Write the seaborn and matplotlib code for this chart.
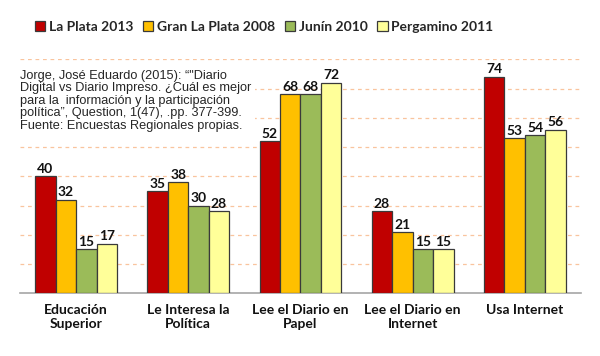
import pandas as pd
import seaborn as sns
import matplotlib.pyplot as plt

# --------------------------------------------------------------
# Data
# --------------------------------------------------------------
categories = ["Educación\nSuperior", "Le Interesa la\nPolítica", "Lee el Diario en\nPapel",
              "Lee el Diario en\nInternet", "Usa Internet"]
series_names = ["La Plata 2013", "Gran La Plata 2008", "Junín 2010", "Pergamino 2011"]
la_plata_2013 = [40, 35, 52, 28, 74]
gran_la_plata_2008 = [32, 38, 68, 21, 53]
junin_2010 = [15, 30, 68, 15, 54]
pergamino_2011 = [17, 28, 72, 15, 56]
colors = ["#C00000", "#FFC000", "#9BBB59", "#FFFF99"]

source_note = ("Jorge, José Eduardo (2015): “\"Diario\n"
               "Digital vs Diario Impreso. ¿Cuál es mejor\n"
               "para la  información y la participación\n"
               "política”, Question, 1(47), .pp. 377-399.\n"
               "Fuente: Encuestas Regionales propias.")

rows = []
for name, vals in zip(series_names, [la_plata_2013, gran_la_plata_2008, junin_2010, pergamino_2011]):
    for cat, v in zip(categories, vals):
        rows.append({"categoria": cat, "serie": name, "valor": v})
df = pd.DataFrame(rows)

# --------------------------------------------------------------
# Plot
# --------------------------------------------------------------
sns.set_style("white")
plt.rcParams['font.family'] = ['Lato', 'DejaVu Sans']

fig = plt.figure(figsize=(6, 3.56), dpi=100)
ax = fig.add_axes([0.0333, 0.176, 0.935, 0.6574])

sns.barplot(data=df, x="categoria", y="valor", hue="serie", order=categories,
            hue_order=series_names, palette=colors, saturation=1, width=0.73, gap=0,
            edgecolor="#3a3a3a", linewidth=0.9, ax=ax, zorder=3)

for cont in ax.containers:
    ax.bar_label(cont, padding=1, fontsize=10, fontweight="bold", color="#111111")

ax.set_ylim(0, 80)
ax.set_xlim(-0.5, 4.5)
ax.set_yticks(range(10, 81, 10))
ax.set_yticklabels([])
ax.yaxis.grid(True, color="#F9C49E", linestyle=(0, (3, 3)), linewidth=0.9)
ax.set_axisbelow(True)
ax.tick_params(axis="y", length=0)
for s in ["top", "right", "left"]:
    ax.spines[s].set_visible(False)
ax.spines["bottom"].set_color("#A6A6A6")
ax.spines["bottom"].set_linewidth(1.2)

ax.set_xticks(range(len(categories)))
ax.set_xticklabels(categories, fontsize=10, fontweight="bold", color="#111111")
ax.tick_params(axis="x", which="major", length=0, pad=8)
ax.set_xticks([i - 0.5 for i in range(len(categories) + 1)], minor=True)
ax.tick_params(axis="x", which="minor", length=5, color="#A6A6A6", width=1.2)
ax.set_xlabel("")
ax.set_ylabel("")

handles, labels = ax.get_legend_handles_labels()
ax.get_legend().remove()
fig.legend(handles, labels, loc="center", bbox_to_anchor=(0.44, 0.924), ncol=4,
           frameon=False, handlelength=0.75, handleheight=0.75, handletextpad=0.25,
           columnspacing=0.7, prop={"weight": "bold", "size": 10})

ax.text(0.0333, 0.63, source_note, transform=fig.transFigure, fontsize=9.2,
        family="Liberation Sans", linespacing=1.06, va="bottom", ha="left",
        bbox=dict(facecolor="white", edgecolor="none", pad=3), zorder=5)

fig.savefig("out.png", dpi=100)
